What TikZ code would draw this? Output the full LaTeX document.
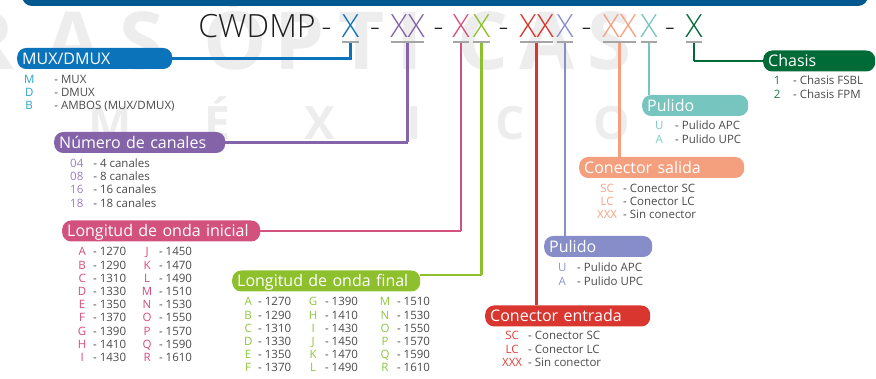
\documentclass[tikz,border=0pt]{standalone}
\usepackage{fontspec}
\setmainfont{Open Sans}
\newfontfamily\codefont{Open Sans Light}
\usepackage{array}
\usetikzlibrary{positioning}

\definecolor{barblue}{HTML}{00588F}
\definecolor{txtgray}{HTML}{4A4A4A}
\definecolor{lgray}{HTML}{A5A5A5}
\definecolor{cMux}{HTML}{0B73BA}
\definecolor{kMux}{HTML}{2AA5CB}
\definecolor{cNum}{HTML}{8463A9}
\definecolor{kNum}{HTML}{9B7DC4}
\definecolor{cIni}{HTML}{D2527D}
\definecolor{kIni}{HTML}{D84A7F}
\definecolor{cFin}{HTML}{8DC02C}
\definecolor{kFin}{HTML}{8DC63F}
\definecolor{cIn}{HTML}{D8362E}
\definecolor{kIn}{HTML}{E2403A}
\definecolor{cPa}{HTML}{878DC8}
\definecolor{kPa}{HTML}{8D93CC}
\definecolor{cOut}{HTML}{F4A07F}
\definecolor{kOut}{HTML}{F6A384}
\definecolor{cPb}{HTML}{76C5BE}
\definecolor{kPb}{HTML}{7BCBC4}
\definecolor{cCh}{HTML}{006B36}
\definecolor{kCh}{HTML}{1C7A44}

\newcolumntype{K}[1]{>{\color{#1}}c}

\begin{document}
\begin{tikzpicture}[x=1pt, y=-1pt,
    title/.style={font=\codefont\fontsize{32}{32}\selectfont, text=black!88, inner sep=0pt, anchor=base, text height=23pt, text depth=0pt},
    pill/.style={rounded corners=9pt, anchor=west, minimum height=21pt, inner xsep=5pt, inner ysep=0pt, text=white, text width=#1, align=left, font=\fontsize{16}{16}\selectfont, text height=11.4pt, text depth=0pt},
    keys/.style={inner sep=0pt, font=\fontsize{11.5}{13.2}\selectfont, text=txtgray},
    uline/.style={line width=2.6pt, draw=lgray},
    link/.style={line width=2.2pt},
    wmark/.style={font=\bfseries\fontsize{80}{80}\selectfont, text=black!7, anchor=base, inner sep=0pt}
]
    \useasboundingbox (0,0) rectangle (876,379);
    \clip (0,0) rectangle (876,379);

    % Watermark
    \foreach \c/\x [count=\i] in {R/-12, A/73, S/142, Ó/235, P/300, T/362, I/410, C/483, A/547, S/610}
        \node[wmark] (wa\i) at (\x,70) {\c};
    \foreach \c/\x [count=\i] in {M/110, É/217, X/320, I/414, C/510, O/612}
        \node[wmark, font=\bfseries\fontsize{46}{46}\selectfont] (wb\i) at (\x,140) {\c};

    % Top bar
    \fill[barblue, rounded corners=10pt] (22,-20) rectangle (868,6);

    % Code
    \node[title] (code) at (257,38) {CWDMP};
    \foreach \x [count=\i] in {326.5,375,438.5,503.5,586.5,670}
        \node[title] (h\i) at (\x,38) {-};
    \node[title, text=cMux] (gMux) at (350.5,38) {X};
    \node[title, text=cNum] (gNum) at (407.5,38) {XX};
    \node[title, text=cIni] (gIni) at (461,38) {X};
    \node[title, text=cFin] (gFin) at (481.5,38) {X};
    \node[title, text=cIn] (gIn) at (536.5,38) {XX};
    \node[title, text=cPa] (gPa) at (565,38) {X};
    \node[title, text=cOut] (gOut) at (619.5,38) {XX};
    \node[title, text=cPb] (gPb) at (649,38) {X};
    \node[title, text=cCh] (gCh) at (694,38) {X};

    % Connectors
    \draw[link, cMux] ([yshift=-4pt]gMux.south) |- (350,58.5) coordinate (jMux);
    \draw[link, cNum] ([yshift=-4pt]gNum.south) |- (407.5,142.5) coordinate (jNum);
    \draw[link, cIni] ([yshift=-4pt]gIni.south) |- (461,231) coordinate (jIni);
    \draw[link, cFin] ([yshift=-4pt]gFin.south) |- (481.5,275) coordinate (jFin);
    \draw[link, cCh] ([yshift=-4pt]gCh.south) |- (694,61) coordinate (jCh);

    % Labels
    \node[pill=145pt, fill=cMux] (mux) at (17,58.5) {MUX/DMUX};
    \node[pill=161pt, fill=cNum] (num) at (54,142.5) {Número de canales};
    \node[pill=188pt, fill=cIni] (lini) at (62,231) {Longitud de onda inicial};
    \node[pill=178pt, fill=cFin] (lfin) at (232,281) {Longitud de onda final};
    \node[pill=155pt, fill=cIn] (cin) at (485,316) {Conector entrada};
    \node[pill=98pt, fill=cPa] (pula) at (544,246.5) {Pulido};
    \node[pill=155pt, fill=cOut] (cout) at (579,167.5) {Conector salida};
    \node[pill=96pt, fill=cPb] (pulb) at (642,105.5) {Pulido};
    \node[pill=102pt, fill=cCh] (chas) at (763,61) {Chasis};

    \draw[link, cMux] (jMux) -- (mux.east);
    \draw[link, cNum] (jNum) -- (num.east);
    \draw[link, cIni] (jIni) -- (lini.east);
    \draw[link, cFin] (jFin) -- (jFin -| lfin.east);
    \draw[link, cIn] ([yshift=-4pt]gIn.south) -- (gIn |- cin.north);
    \draw[link, cPa] ([yshift=-4pt]gPa.south) -- (gPa |- pula.north);
    \draw[link, cOut] ([yshift=-4pt]gOut.south) -- (gOut |- cout.north);
    \draw[link, cPb] ([yshift=-4pt]gPb.south) -- (gPb |- pulb.north);
    \draw[link, cCh] (jCh) -- (chas.west);

    % Underlines
    \foreach \g in {gMux,gNum,gIni,gFin,gIn,gPa,gOut,gPb,gCh}
        \draw[uline] ([xshift=0.8pt,yshift=-4pt]\g.south west) -- ([xshift=-0.8pt,yshift=-4pt]\g.south east);

    % Option lists
    \node[keys, below right=4.8pt and 6.8pt of mux.south west] (muxL) {%
        \begin{tabular}{@{}K{kMux}@{\hspace{20pt}}l@{}}
        M & - MUX\\ D & - DMUX\\ B & - AMBOS (MUX/DMUX)
        \end{tabular}};
    \node[keys, below right=4.8pt and 16pt of num.south west] (numL) {%
        \begin{tabular}{@{}K{kNum}@{\hspace{10pt}}l@{}}
        04 & - 4 canales\\ 08 & - 8 canales\\ 16 & - 16 canales\\ 18 & - 18 canales
        \end{tabular}};
    \node[keys, below right=4.8pt and 15.7pt of lini.south west] (liniL) {%
        \begin{tabular}{@{}K{kIni}@{\hspace{6.7pt}}l@{\hspace{15.8pt}}K{kIni}@{\hspace{6.8pt}}l@{}}
        A & - 1270 & J & - 1450\\ B & - 1290 & K & - 1470\\ C & - 1310 & L & - 1490\\
        D & - 1330 & M & - 1510\\ E & - 1350 & N & - 1530\\ F & - 1370 & O & - 1550\\
        G & - 1390 & P & - 1570\\ H & - 1410 & Q & - 1590\\ I & - 1430 & R & - 1610
        \end{tabular}};
    \node[keys, below right=4.8pt and 11.8pt of lfin.south west] (lfinL) {%
        \begin{tabular}{@{}K{kFin}@{\hspace{5.8pt}}l@{\hspace{17.7pt}}K{kFin}@{\hspace{7.7pt}}l@{\hspace{21.8pt}}K{kFin}@{\hspace{6.8pt}}l@{}}
        A & - 1270 & G & - 1390 & M & - 1510\\ B & - 1290 & H & - 1410 & N & - 1530\\
        C & - 1310 & I & - 1430 & O & - 1550\\ D & - 1330 & J & - 1450 & P & - 1570\\
        E & - 1350 & K & - 1470 & Q & - 1590\\ F & - 1370 & L & - 1490 & R & - 1610
        \end{tabular}};
    \node[keys, below right=3.8pt and 17pt of cin.south west] (cinL) {%
        \begin{tabular}{@{}K{kIn}@{\hspace{6pt}}l@{}}
        SC & - Conector SC\\ LC & - Conector LC\\ XXX & - Sin conector
        \end{tabular}};
    \node[keys, below right=4.8pt and 13.8pt of pula.south west] (pulaL) {%
        \begin{tabular}{@{}K{kPa}@{\hspace{10.8pt}}l@{}}
        U & - Pulido APC\\[0.8pt] A & - Pulido UPC
        \end{tabular}};
    \node[keys, below right=4.8pt and 18pt of cout.south west] (coutL) {%
        \begin{tabular}{@{}K{kOut}@{\hspace{6pt}}l@{}}
        SC & - Conector SC\\ LC & - Conector LC\\ XXX & - Sin conector
        \end{tabular}};
    \node[keys, below right=3.8pt and 12.8pt of pulb.south west] (pulbL) {%
        \begin{tabular}{@{}K{kPb}@{\hspace{11.8pt}}l@{}}
        U & - Pulido APC\\[0.8pt] A & - Pulido UPC
        \end{tabular}};
    \node[keys, below right=3.8pt and 10.7pt of chas.south west] (chasL) {%
        \begin{tabular}{@{}K{kCh}@{\hspace{12.7pt}}l@{}}
        1 & - Chasis FSBL\\[0.8pt] 2 & - Chasis FPM
        \end{tabular}};
\end{tikzpicture}
\end{document}
